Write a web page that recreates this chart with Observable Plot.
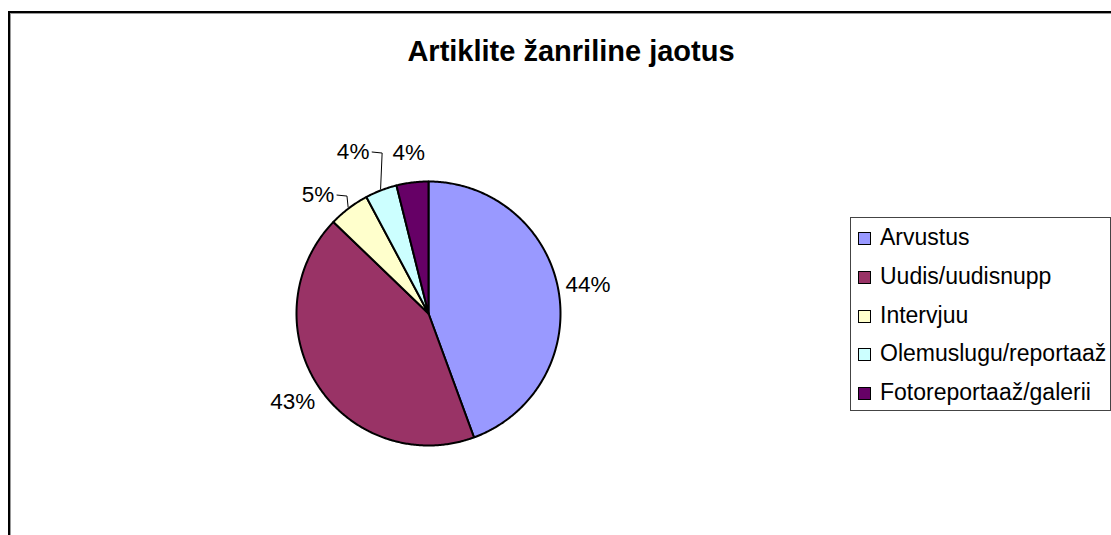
<!DOCTYPE html>
<html><head><meta charset="utf-8">
<script src="https://cdn.jsdelivr.net/npm/d3@7"></script>
<script src="https://cdn.jsdelivr.net/npm/@observablehq/plot@0.6"></script>
<style>
html,body{margin:0;padding:0;background:#fff;overflow:hidden;width:1111px;height:535px;}
#wrap{position:relative;width:1111px;height:535px;overflow:hidden;font-family:"Liberation Sans",Arial,sans-serif;color:#000;}
#frame{position:absolute;left:8px;top:11px;width:1300px;height:700px;border-left:2px solid #000;border-top:2px solid #000;box-shadow:inset 1px 1px 0 #999;}
#chart{position:absolute;left:0;top:0;}
#title{position:absolute;left:0;width:1142px;top:35px;line-height:32px;text-align:center;font-weight:bold;font-size:29px;white-space:nowrap;}
#legend{position:absolute;left:850px;top:217px;width:259px;height:192px;border:1px solid #444;background:#fff;}
.sw{position:absolute;left:7px;width:11px;height:11px;border:1px solid #000;}
.lt{position:absolute;left:29px;font-size:23px;line-height:26px;white-space:nowrap;}
</style></head>
<body>
<div id="wrap">
  <div id="frame"></div>
  <div id="chart"></div>
  <div id="title"></div>
  <div id="legend"></div>
</div>
<script>
// ---- data ----
const titleText = "Artiklite žanriline jaotus";
const categories = ["Arvustus", "Uudis/uudisnupp", "Intervjuu", "Olemuslugu/reportaaž", "Fotoreportaaž/galerii"];
const values = [44.4, 42.8, 5.0, 3.9, 3.9];
const colors = ["#9999FF", "#993366", "#FFFFCC", "#CCFFFF", "#660066"];

// ---- layout ----
const W = 1111, H = 535, R = 132, cx = 428, cy = 313;
const labelR = 162 / R;

document.getElementById("title").textContent = titleText;

const total = d3.sum(values);
let acc = 0;
const slices = categories.map((c, i) => {
  const a0 = acc / total * 2 * Math.PI;
  acc += values[i];
  const a1 = acc / total * 2 * Math.PI;
  return {c, v: values[i], a0, a1, mid: (a0 + a1) / 2};
});

// slice outlines (arc sampled from the data angles)
const pts = [];
slices.forEach(s => {
  pts.push({c: s.c, x: 0, y: 0});
  const n = Math.max(2, Math.ceil((s.a1 - s.a0) / 0.01));
  for (let k = 0; k <= n; k++) {
    const a = s.a0 + (s.a1 - s.a0) * k / n;
    pts.push({c: s.c, x: Math.sin(a), y: Math.cos(a)});
  }
});

// label angles: spread small adjacent labels apart (min gap), anchored at last slice
const minGap = 18 * Math.PI / 180;
const labAng = slices.map(s => s.mid);
for (let i = slices.length - 2; i >= 0; i--) {
  if (values[i] < 10 && labAng[i + 1] - labAng[i] < minGap) labAng[i] = labAng[i + 1] - minGap;
}
const labels = slices.map((s, i) => {
  const moved = Math.abs(labAng[i] - s.mid) > 0.03;
  const rr = moved && values[i] < 4.5 ? labelR * 1.1 : labelR;
  return {
    text: Math.round(s.v / total * 100) + "%",
    x: Math.sin(labAng[i]) * rr,
    y: Math.cos(labAng[i]) * rr,
    moved, mid: s.mid, i
  };
});
const leaders = [];
labels.filter(l => l.moved).forEach(l => {
  leaders.push({k: l.i, x: l.x + 19 / R, y: l.y});
  leaders.push({k: l.i, x: l.x + 29 / R, y: l.y - 1 / R});
  leaders.push({k: l.i, x: Math.sin(l.mid) * 1.01, y: Math.cos(l.mid) * 1.01});
});

const plot = Plot.plot({
  width: W, height: H, margin: 0,
  style: {fontFamily: "'Liberation Sans', Arial, sans-serif", background: "transparent", overflow: "visible"},
  x: {domain: [-cx / R, (W - cx) / R], axis: null},
  y: {domain: [-(H - cy) / R, cy / R], axis: null},
  color: {domain: categories, range: colors},
  marks: [
    Plot.line(pts, {x: "x", y: "y", z: "c", fill: "c", stroke: "#000", strokeWidth: 2, curve: "linear-closed", strokeLinejoin: "round"}),
    Plot.line(leaders, {x: "x", y: "y", z: "k", stroke: "#000", strokeWidth: 1, curve: "linear"}),
    Plot.text(labels, {x: "x", y: "y", text: "text", fontSize: 22.5, fill: "#000", textAnchor: "middle", lineAnchor: "middle"})
  ]
});
document.getElementById("chart").appendChild(plot);

// legend
const lg = document.getElementById("legend");
categories.forEach((c, i) => {
  const sw = document.createElement("div");
  sw.className = "sw";
  sw.style.top = (14 + i * 38.75) + "px";
  sw.style.background = colors[i];
  lg.appendChild(sw);
  const t = document.createElement("div");
  t.className = "lt";
  t.style.top = (6 + i * 38.75) + "px";
  t.textContent = c;
  lg.appendChild(t);
});
</script>
</body></html>
